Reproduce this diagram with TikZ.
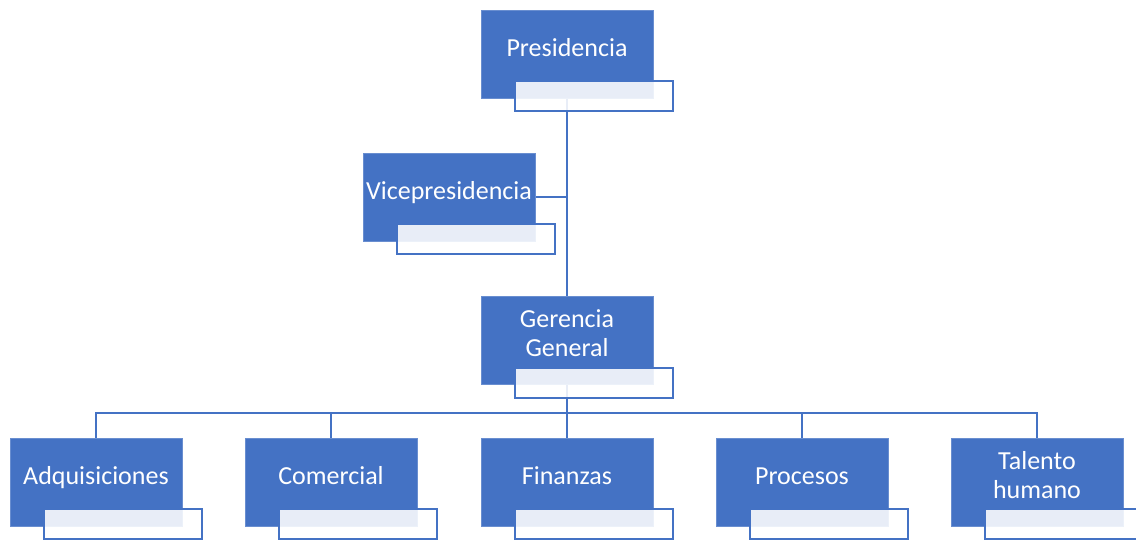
\documentclass[tikz,border=0pt]{standalone}
\usepackage{fontspec}
\setmainfont{Carlito}
\usetikzlibrary{positioning, backgrounds}
\definecolor{orgblue}{HTML}{4472C4}

\begin{document}
\begin{tikzpicture}[
  x=1pt, y=1pt,
  box/.style={fill=orgblue, draw=orgblue!80!white, line width=0.6pt,
              minimum width=172pt, minimum height=88pt, inner sep=0pt},
  lbl/.style={text=white, align=center, yshift=3pt,
              font=\fontsize{26}{29}\selectfont,
              execute at begin node=\strut, execute at end node=\strut},
  sub/.style={draw=orgblue, line width=2pt, fill=white, fill opacity=0.88,
              minimum width=158pt, minimum height=30pt, inner sep=0pt,
              anchor=north west},
  link/.style={draw=orgblue, line width=2pt}
]
\useasboundingbox (0,0) rectangle (1136,539);

% top: presidencia, vicepresidencia, gerencia
\node[box, label={[lbl]center:Presidencia}] (pres) at (567,485) {};
\node[sub] (pres-s) at ([shift={(33,18)}]pres.south west) {};
\node[box, label={[lbl]center:Vicepresidencia}] (vice) at (449,342) {};
\node[sub] (vice-s) at ([shift={(33,18)}]vice.south west) {};
\node[box, label={[lbl]center:Gerencia\\ General}] (ger) at (567,198.5) {};
\node[sub] (ger-s) at ([shift={(33,18)}]ger.south west) {};

% bottom row: areas
\node[box, label={[lbl]center:Adquisiciones}] (adq) at (96,57) {};
\node[box, label={[lbl]center:Comercial}] (com) at (331,57) {};
\node[box, label={[lbl]center:Finanzas}] (fin) at (567,57) {};
\node[box, label={[lbl]center:Procesos}] (pro) at (802,57) {};
\node[box, label={[lbl]center:Talento\\ humano}] (tal) at (1037,57) {};
\foreach \n in {adq,com,fin,pro,tal}
  \node[sub] (\n-s) at ([shift={(33,18)}]\n.south west) {};

\coordinate (bus) at (567,126);

\begin{scope}[on background layer]
\draw[link] (pres.south) -- (ger.north);
\draw[link] (vice.east) -- (vice.east -| pres.south);
\draw[link] (ger.south) -- (bus);
\foreach \n in {adq,com,fin,pro,tal}
  \draw[link] (bus) -| (\n.north);
\end{scope}
\end{tikzpicture}
\end{document}
